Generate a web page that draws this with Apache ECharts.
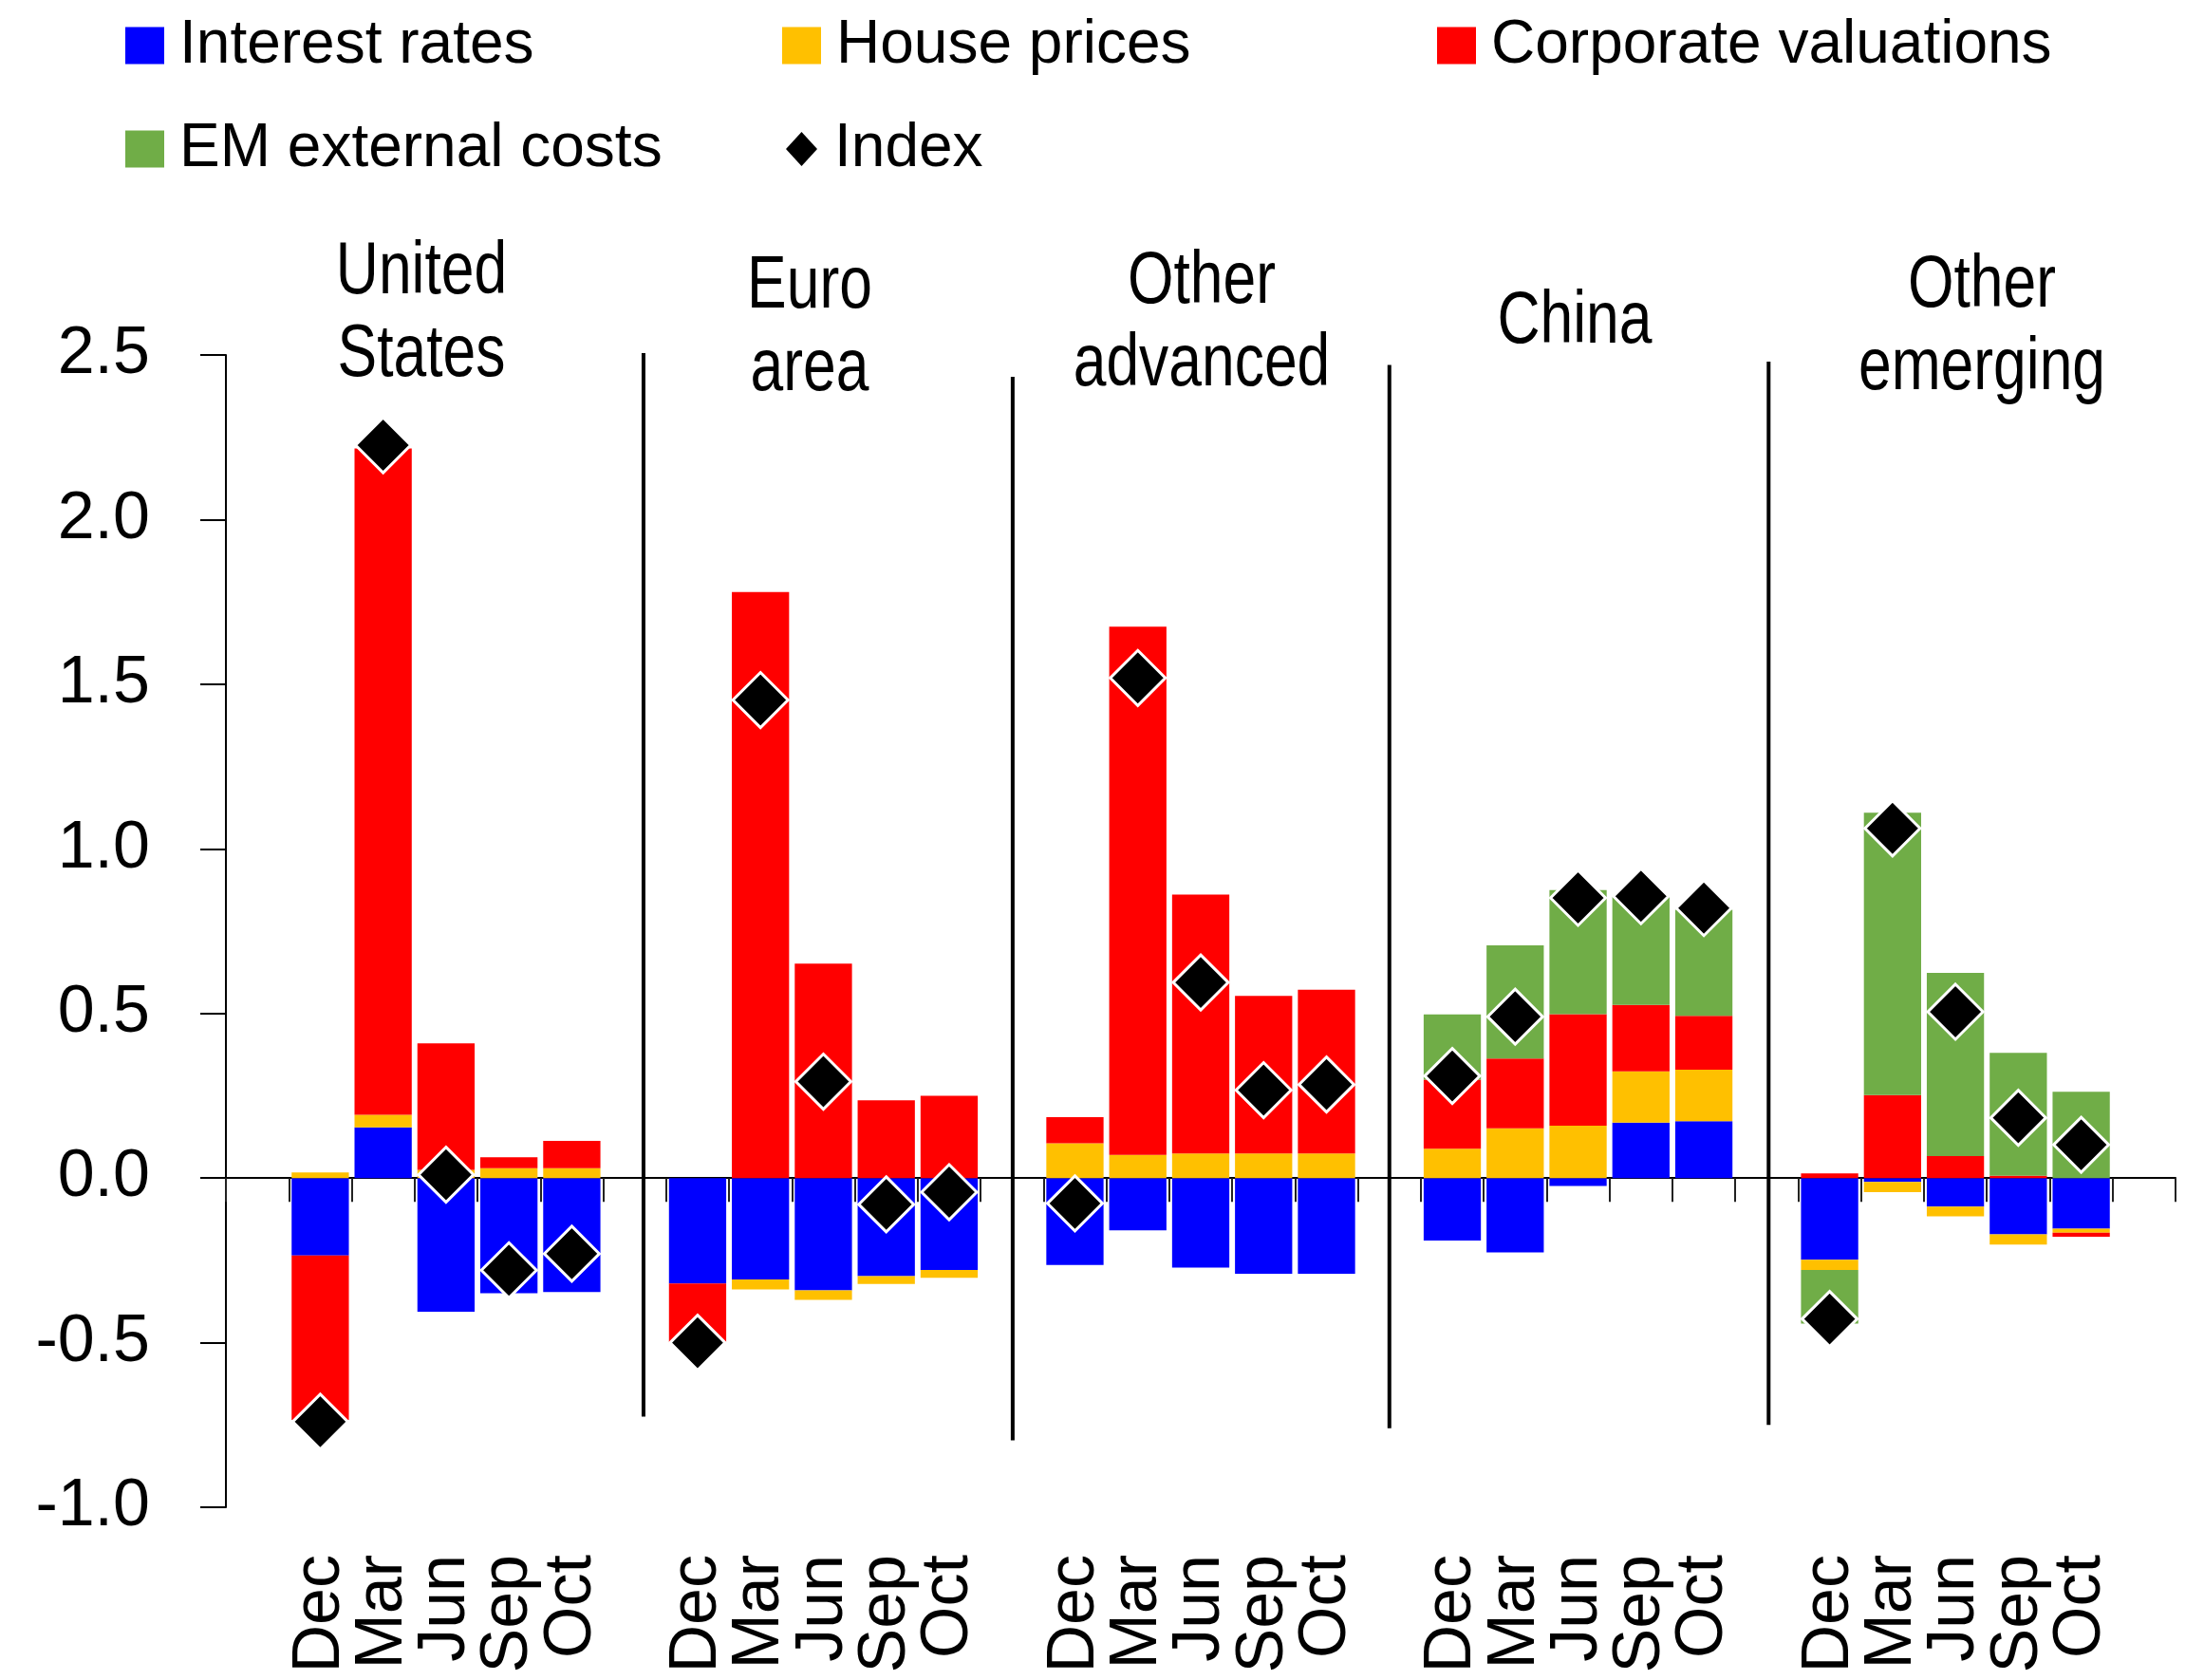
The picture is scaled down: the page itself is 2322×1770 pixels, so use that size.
<!DOCTYPE html>
<html>
<head>
<meta charset="utf-8">
<script src="https://cdn.jsdelivr.net/npm/echarts@6/dist/echarts.min.js"></script>
<style>
  html, body { margin: 0; padding: 0; background: #fff; }
  #chart { width: 2322px; height: 1770px; }
</style>
</head>
<body>
<div id="chart"></div>
<script>
//--------------------------------
// Data
//--------------------------------
const groups = ['United\nStates', 'Euro\narea', 'Other\nadvanced', 'China', 'Other\nemerging'];
const months = ['Dec', 'Mar', 'Jun', 'Sep', 'Oct'];

// 5 values per group, in the order of groups
const interestRates = [
    -0.235, 0.154, -0.406, -0.350, -0.346,
    -0.320, -0.308, -0.341, -0.298, -0.279,
    -0.264, -0.159, -0.272, -0.291, -0.291,
    -0.190, -0.226, -0.024, 0.168, 0.173,
    -0.248, -0.012, -0.087, -0.171, -0.154
];
const housePrices = [
    0.017, 0.038, 0.025, 0.030, 0.030,
    0, -0.030, -0.029, -0.024, -0.024,
    0.106, 0.070, 0.075, 0.075, 0.075,
    0.089, 0.151, 0.159, 0.156, 0.156,
    -0.031, -0.031, -0.029, -0.031, -0.012
];
const corporateValuations = [
    -0.500, 2.024, 0.384, 0.033, 0.083,
    -0.180, 1.780, 0.651, 0.236, 0.250,
    0.079, 1.605, 0.786, 0.478, 0.497,
    0.210, 0.212, 0.339, 0.202, 0.164,
    0.014, 0.252, 0.067, 0.007, -0.012
];
const emExternalCosts = [
    0, 0, 0, 0, 0,
    0, 0, 0, 0, 0,
    0, 0, 0, 0, 0,
    0.198, 0.344, 0.377, 0.330, 0.322,
    -0.163, 0.858, 0.556, 0.373, 0.262
];
const indexValues = [
    -0.740, 2.226, 0.010, -0.280, -0.230,
    -0.500, 1.452, 0.293, -0.080, -0.043,
    -0.077, 1.519, 0.594, 0.267, 0.284,
    0.310, 0.490, 0.851, 0.856, 0.820,
    -0.428, 1.062, 0.505, 0.183, 0.101
];
const yTicks = [-1.0, -0.5, 0.0, 0.5, 1.0, 1.5, 2.0, 2.5];

// group dividers: [x in category units, top value, bottom value]
const dividers = [
    [6.64, 2.51, -0.725],
    [12.51, 2.434, -0.797],
    [18.50, 2.47, -0.76],
    [24.53, 2.48, -0.75]
];

//--------------------------------
// Layout / style
//--------------------------------
const FONT = "'Liberation Sans', Arial, sans-serif";
const titlePos = [[444, 331], [853, 346], [1266, 341], [1659, 339], [2088, 345]];

// one blank category before each group and one at the end
const categories = [];
groups.forEach(() => {
    categories.push('');
    months.forEach(m => categories.push(m));
});
categories.push('');

const pad = (vals, zeroAsNull) => {
    let out = [];
    groups.forEach((g, gi) => {
        out.push(null);
        for (let i = 0; i < months.length; i++) {
            let v = vals[gi * months.length + i];
            out.push(zeroAsNull && v === 0 ? null : v);
        }
    });
    out.push(null);
    return out;
};

const dividerData = [];
dividers.forEach(d => {
    dividerData.push([d[0], d[1]]);
    dividerData.push([d[0], d[2]]);
    dividerData.push([d[0], null]);
});

const barSeries = (name, vals, color) => ({
    name: name,
    type: 'bar',
    stack: 'total',
    xAxisIndex: 0,
    barWidth: '91%',
    itemStyle: { color: color },
    data: pad(vals, true)
});

const legendText = { fontFamily: FONT, fontSize: 64, color: '#000', lineHeight: 78, padding: [0, 0, 0, 11] };

var myChart = echarts.init(document.getElementById('chart'));

let options = {
    animation: false,
    backgroundColor: '#fff',
    grid: { left: 238, right: 30, top: 374, bottom: 182 },
    legend: [
        {
            data: ['Interest rates', 'EM external costs'],
            orient: 'vertical', left: 127, top: 4, icon: 'rect',
            itemWidth: 41, itemHeight: 39, itemGap: 31,
            textStyle: legendText
        },
        {
            data: ['House prices'],
            orient: 'vertical', left: 819, top: 4, icon: 'rect',
            itemWidth: 41, itemHeight: 39,
            textStyle: legendText
        },
        {
            data: ['Corporate valuations'],
            orient: 'vertical', left: 1509, top: 4, icon: 'rect',
            itemWidth: 41, itemHeight: 39,
            textStyle: legendText
        },
        {
            data: ['Index'],
            orient: 'vertical', left: 823, top: 113, icon: 'diamond',
            itemWidth: 33, itemHeight: 36,
            itemStyle: { borderWidth: 0, opacity: 1 },
            textStyle: Object.assign({}, legendText, { padding: [0, 0, 0, 13] })
        }
    ],
    xAxis: [
        {
            // zero line with ticks
            type: 'category',
            data: categories,
            position: 'bottom',
            axisLine: { onZero: true, lineStyle: { color: '#000', width: 2 } },
            axisTick: { show: true, length: 25, lineStyle: { color: '#222', width: 2 } },
            axisLabel: { show: false },
            splitLine: { show: false }
        },
        {
            // month labels at the bottom
            type: 'category',
            data: categories,
            position: 'bottom',
            axisLine: { show: false, onZero: false },
            axisTick: { show: false },
            axisLabel: {
                interval: 0, rotate: 90, margin: 50,
                fontFamily: FONT, fontSize: 70, color: '#000'
            },
            splitLine: { show: false }
        },
        {
            type: 'value', min: 0, max: categories.length, show: false
        }
    ],
    yAxis: {
        type: 'value',
        min: yTicks[0],
        max: yTicks[yTicks.length - 1],
        interval: 0.5,
        axisLine: { show: true, lineStyle: { color: '#000', width: 2 } },
        axisTick: { show: true, length: 27, lineStyle: { color: '#000', width: 2 } },
        axisLabel: {
            margin: 80, fontFamily: FONT, fontSize: 70, color: '#000',
            formatter: (v) => v.toFixed(1)
        },
        splitLine: { show: false }
    },
    series: [
        barSeries('Interest rates', interestRates, '#0000FF'),
        barSeries('House prices', housePrices, '#FFC000'),
        barSeries('Corporate valuations', corporateValuations, '#FF0000'),
        barSeries('EM external costs', emExternalCosts, '#70AD47'),
        {
            name: 'Index',
            type: 'scatter',
            xAxisIndex: 0,
            symbol: 'diamond',
            symbolSize: 58,
            z: 5,
            itemStyle: { color: '#000', borderColor: '#fff', borderWidth: 3, opacity: 1 },
            data: pad(indexValues, false)
        },
        {
            name: 'dividers',
            type: 'line',
            xAxisIndex: 2,
            symbol: 'none',
            silent: true,
            connectNulls: false,
            lineStyle: { color: '#000', width: 4 },
            data: dividerData
        }
    ],
    graphic: groups.map((g, i) => ({
        type: 'text',
        x: titlePos[i][0],
        y: titlePos[i][1],
        scaleX: 0.8,
        style: {
            text: g,
            fontFamily: FONT,
            fontSize: 78,
            lineHeight: 87,
            fill: '#000',
            align: 'center',
            verticalAlign: 'middle'
        }
    }))
};

myChart.setOption(options);
</script>
</body>
</html>
